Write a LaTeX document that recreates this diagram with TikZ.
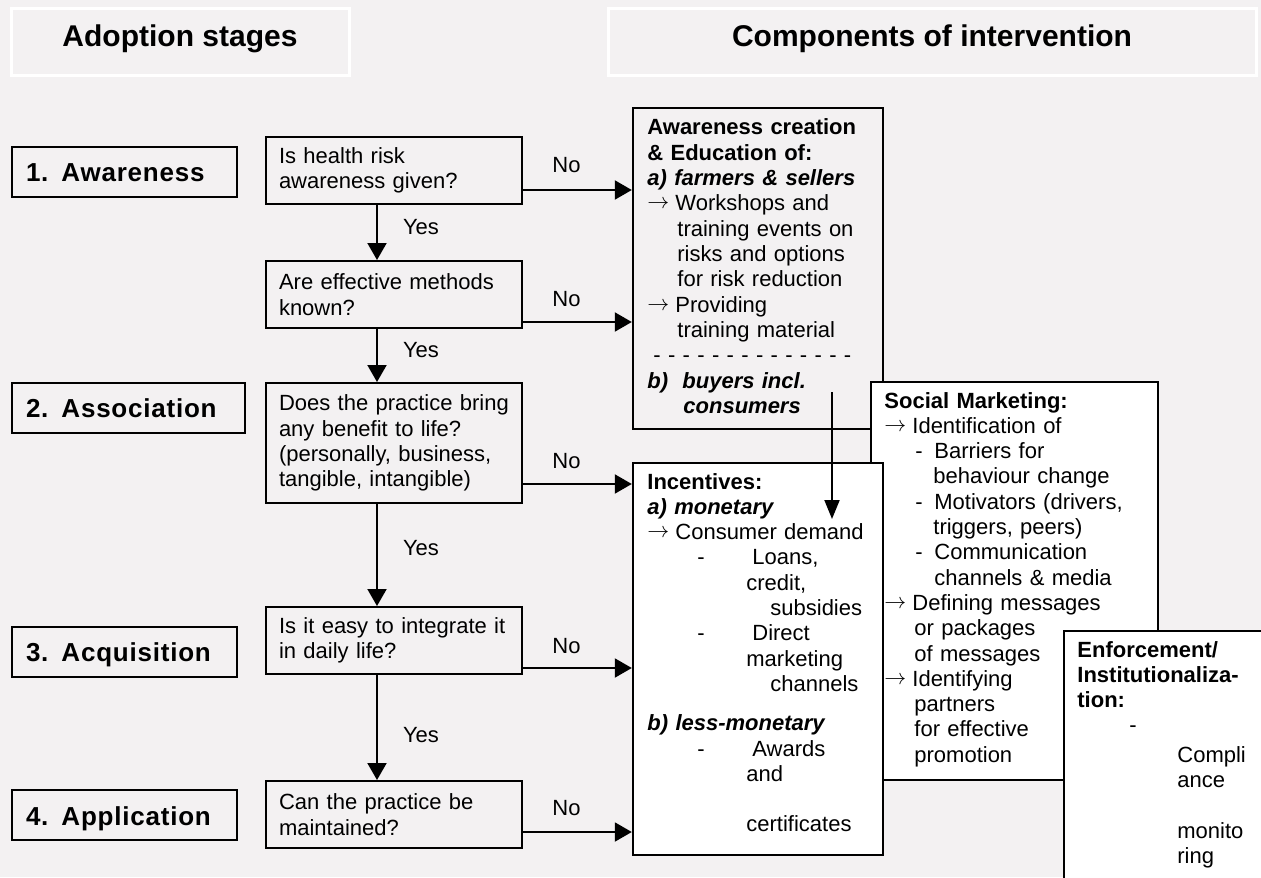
\documentclass[tikz,border=0pt]{standalone}
\usepackage{fontspec}
\setmainfont{Liberation Sans}
\newfontfamily\stagefont[LetterSpace=3]{Liberation Sans}
\usetikzlibrary{arrows.meta,positioning,fit}

\definecolor{pagebg}{RGB}{243,241,242}

\newcommand{\arritem}{\makebox[14pt][l]{\raisebox{1pt}{$\rightarrow$}}}
\newcommand{\incdash}[1]{\makebox[0pt][l]{\hspace*{25pt}-}\hspace*{#1}}
\newcommand{\smdash}{\hspace*{15.5pt}\makebox[9.5pt][l]{-}}

\begin{document}
\begin{tikzpicture}[x=0.5pt,y=-0.5pt,
	body/.style={font=\fontsize{11}{12.65}\selectfont},
	headbox/.style={draw=white,line width=1.5pt,minimum height=33.5pt,
		text height=8pt,text depth=3.5pt,font=\bfseries\fontsize{15}{18}\selectfont},
	stage/.style={draw,line width=1pt,anchor=west,minimum height=25pt,text width=98.5pt,
		inner xsep=7pt,inner ysep=0pt,align=left,text height=10pt,text depth=0pt,
		font=\stagefont\bfseries\fontsize{13}{15}\selectfont},
	qbox/.style={draw,line width=1pt,anchor=north west,text width=115pt,
		inner xsep=6.5pt,inner ysep=0pt,align=left,body},
	compbox/.style={draw,line width=1.2pt,inner sep=0pt},
	comptext/.style={anchor=base west,inner sep=0pt,align=left,body},
	flow/.style={line width=1pt,-{Triangle[length=8.5pt,width=9.5pt]}},
	downflow/.style={line width=1pt,-{Triangle[length=9.5pt,width=7.5pt]}},
	nolab/.style={pos=.4,anchor=base,yshift=8.5pt,inner sep=0pt,body},
	yeslab/.style={pos=.53,anchor=base west,xshift=12.5pt,inner sep=0pt,body}]
	
	% Page
	\useasboundingbox (0,0) rectangle (1261,877);
	\fill[pagebg] (0,0) rectangle (1261,877);
	\clip (0,0) rectangle (1261,877);
	
	% Column headers
	\node[headbox,minimum width=169pt] (hdstages) at (180,42.5) {Adoption stages};
	\node[headbox,minimum width=324pt] (hdcomp) at (932,42.5) {Components of intervention};
	
	% Adoption stages
	\node[stage] (s1) at (11,172) {1. Awareness};
	\node[stage,text width=102.5pt] (s2) at (11,407.5) {2. Association};
	\node[stage] (s3) at (11,651.5) {3. Acquisition};
	\node[stage] (s4) at (11,815) {4. Application};
	
	% Questions
	\node[qbox,minimum height=33.5pt] (q1) at (265,136) {Is health risk\\awareness given?};
	\node[qbox,minimum height=33.5pt] (q2) at (265,260) {Are effective methods\\known?};
	\node[qbox,minimum height=60pt] (q3) at (265,382) {Does the practice bring\\any benefit to life?\\(personally, business,\\tangible, intangible)};
	\node[qbox,minimum height=33.5pt] (q4) at (265,606) {Is it easy to integrate it\\in daily life?};
	\node[qbox,minimum height=33.5pt] (q5) at (265,780) {Can the practice be\\maintained?};
	
	% Awareness creation & education
	\node[compbox,fit={(633,108)(883,429)}] (aw) {};
	\node[comptext,text width=117pt] (awt) at (647,135) {%
		\textbf{Awareness creation}\\
		\textbf{\& Education of:}\\
		\textbf{\textit{a) farmers \& sellers}}\\
		\arritem Workshops and\\
		\hspace*{15pt}training events on\\
		\hspace*{15pt}risks and options\\
		\hspace*{15pt}for risk reduction\\
		\arritem Providing\\
		\hspace*{15pt}training material\\
		\hspace*{3pt}- - - - - - - - - - - - - -\\
		\textbf{\textit{\makebox[17.5pt][l]{b)}buyers incl.}}\\
		\hspace*{18pt}\textbf{\textit{consumers}}};
	
	% Social marketing
	\node[compbox,fill=white,fit={(871,382)(1158,780)}] (sm) {};
	\node[comptext,text width=133pt] (smt) at (884,408) {%
		\textbf{Social Marketing:}\\
		\arritem Identification of\\
		\smdash Barriers for\\
		\hspace*{24.5pt}behaviour change\\
		\smdash Motivators (drivers,\\
		\hspace*{24.5pt}triggers, peers)\\
		\smdash Communication\\
		\hspace*{25pt}channels \& media\\
		\arritem Defining messages\\
		\hspace*{15pt}or packages\\
		\hspace*{15pt}of messages\\
		\arritem Identifying\\
		\hspace*{15pt}partners\\
		\hspace*{15pt}for effective\\
		\hspace*{15pt}promotion};
	
	% Incentives
	\node[compbox,fill=white,fit={(633,463)(883,855)}] (inc) {};
	\node[comptext,text width=117pt] (inct) at (647,489) {%
		\textbf{Incentives:}\\
		\textbf{\textit{a) monetary}}\\
		\arritem Consumer demand\\
		\incdash{52.5pt}Loans,\\
		\hspace*{49.5pt}credit,\\
		\hspace*{61.5pt}subsidies\\
		\incdash{52.5pt}Direct\\
		\hspace*{49.5pt}marketing\\
		\hspace*{61.5pt}channels\\[7pt]
		\textbf{\textit{b) less-monetary}}\\
		\incdash{52.5pt}Awards\\
		\hspace*{49.5pt}and\\[12.65pt]
		\hspace*{49.5pt}certificates};
	
	% Enforcement
	\node[compbox,fill=white,fit={(1064,631)(1290,900)}] (enf) {};
	\node[comptext,text width=92pt] (enft) at (1077,657) {%
		\textbf{Enforcement/}\\
		\textbf{Institutionaliza-}\\
		\textbf{tion:}\\
		\hspace*{26pt}-\\[2pt]
		\hspace*{50pt}Compli\\
		\hspace*{50pt}ance\\[12.65pt]
		\hspace*{50pt}monito\\
		\hspace*{50pt}ring};
	
	% Yes path
	\coordinate (ax) at (377,0);
	\draw[flow] (q1.south -| ax) -- node[yeslab] {Yes} (q2.north -| ax);
	\draw[flow] (q2.south -| ax) -- node[yeslab] {Yes} (q3.north -| ax);
	\draw[flow] (q3.south -| ax) -- node[yeslab,pos=.5] {Yes} (q4.north -| ax);
	\draw[flow] (q4.south -| ax) -- node[yeslab,pos=.64] {Yes} (q5.north -| ax);
	
	% No path
	\coordinate (n1) at ([yshift=-9.75pt]q1.east);
	\coordinate (n2) at ([yshift=-13.75pt]q2.east);
	\coordinate (n3) at ([yshift=-20.5pt]q3.east);
	\coordinate (n4) at ([yshift=-13.75pt]q4.east);
	\coordinate (n5) at ([yshift=-8.75pt]q5.east);
	\draw[flow] (n1) -- node[nolab] {No} (n1 -| aw.west);
	\draw[flow] (n2) -- node[nolab,yshift=-0.5pt] {No} (n2 -| aw.west);
	\draw[flow] (n3) -- node[nolab,yshift=-0.5pt] {No} (n3 -| inc.west);
	\draw[flow] (n4) -- node[nolab,yshift=-1pt] {No} (n4 -| inc.west);
	\draw[flow] (n5) -- node[nolab] {No} (n5 -| inc.west);
	
	% Buyers to incentives
	\coordinate (bt) at (832,392);
	\coordinate (be) at (832,519);
	\draw[downflow] (bt) -- (be);
	
\end{tikzpicture}
\end{document}
